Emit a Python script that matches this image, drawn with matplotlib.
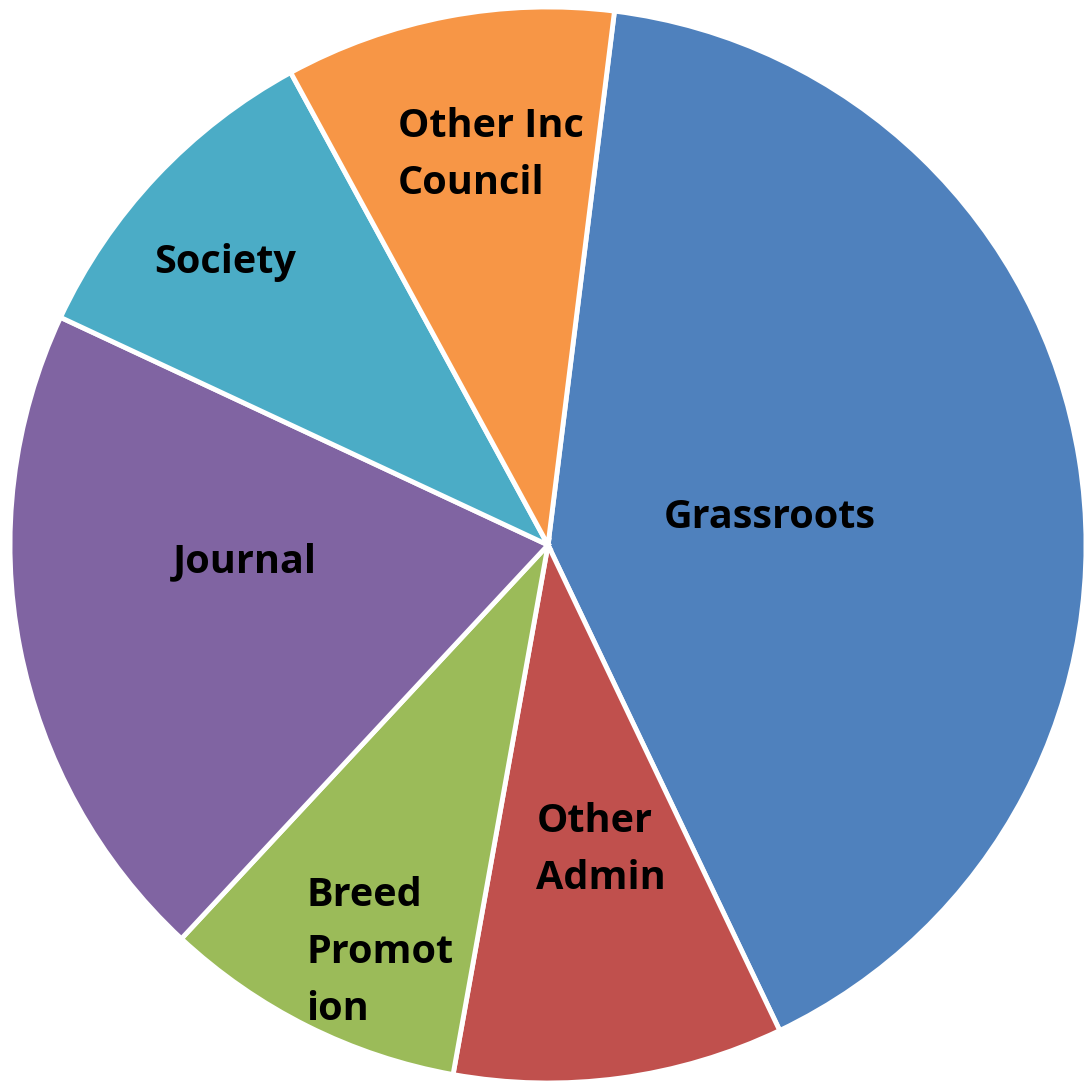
import matplotlib.pyplot as plt

# slice shares (%), clockwise from the Grassroots edge
labels = ['Grassroots', 'Other\nAdmin', 'Breed\nPromot\nion', 'Journal',
          'Society', 'Other Inc\nCouncil']
shares = [40.9, 9.9, 9.1, 20.0, 10.1, 9.9]
colors = ['#4F81BD', '#C0504D', '#9BBB59', '#8064A2', '#4BACC6', '#F79646']

# label spots inside the pie (unit radius)
label_xy = [(0.413, 0.052), (0.099, -0.567), (-0.312, -0.757),
            (-0.563, -0.032), (-0.600, 0.526), (-0.106, 0.725)]

fig = plt.figure(figsize=(10.86, 10.81), dpi=100)
ax = fig.add_axes([0, 0, 1, 1])
ax.pie(shares, colors=colors, startangle=82.9, counterclock=False,
       radius=1.0, wedgeprops=dict(edgecolor='white', linewidth=3.5))

for text, (x, y) in zip(labels, label_xy):
    ax.text(x, y, text, ha='center', va='center', multialignment='left',
            fontsize=28.5, fontweight='bold', family='Open Sans',
            linespacing=1.6, color='black')

ax.set_xlim(-1.0186, 1.0)
ax.set_ylim(-0.9963, 1.013)
ax.set_aspect('auto')
ax.axis('off')

fig.savefig('out.png', dpi=100, facecolor='white')
